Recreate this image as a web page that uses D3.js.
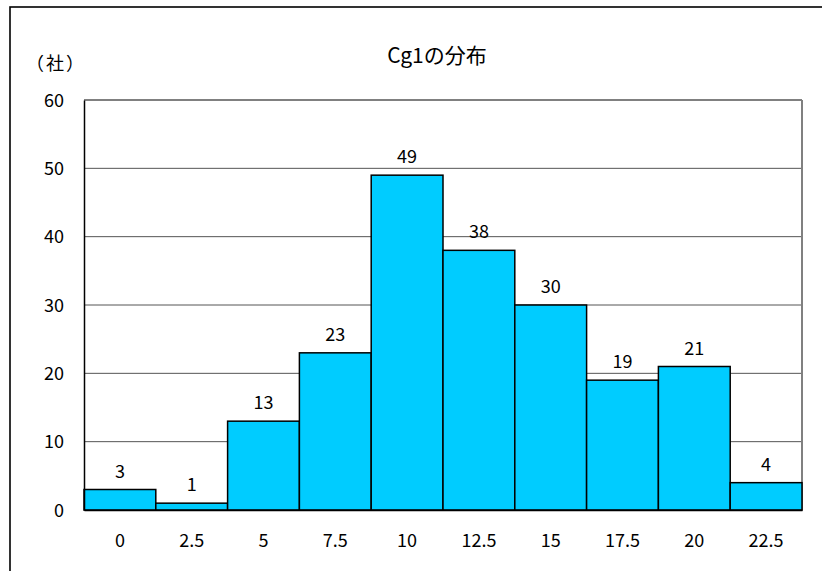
<!DOCTYPE html>
<html>
<head>
<meta charset="utf-8">
<script src="https://cdn.jsdelivr.net/npm/d3@7"></script>
<style>
  body { margin: 0; background: #fff; }
  text { font-family: "Noto Sans CJK JP", "DejaVu Sans", sans-serif; fill: #000; }
</style>
</head>
<body>
<div id="chart"></div>
<script>
// 階級と社数
const categories = ["0", "2.5", "5", "7.5", "10", "12.5", "15", "17.5", "20", "22.5"]
const counts = [3, 1, 13, 23, 49, 38, 30, 19, 21, 4]
const yTicks = [0, 10, 20, 30, 40, 50, 60]

const dimensions = {
    width: 822,
    height: 571,
    margin: { top: 100, right: 20, bottom: 61, left: 84 }
}
dimensions.boundedWidth = dimensions.width - dimensions.margin.left - dimensions.margin.right
dimensions.boundedHeight = dimensions.height - dimensions.margin.top - dimensions.margin.bottom

const wrapper = d3.select("#chart")
    .append("svg")
        .attr("width", dimensions.width)
        .attr("height", dimensions.height)

// 外枠
wrapper.append("rect")
    .attr("x", 10).attr("y", 7)
    .attr("width", 830).attr("height", 600)
    .attr("fill", "none")
    .attr("stroke", "#000")
    .attr("stroke-width", 1.6)

const bounds = wrapper.append("g")
    .attr("transform", `translate(${dimensions.margin.left},${dimensions.margin.top})`)

const xScale = d3.scaleBand()
    .domain(categories)
    .range([0, dimensions.boundedWidth])
    .padding(0)

const yScale = d3.scaleLinear()
    .domain([0, 60])
    .range([dimensions.boundedHeight, 0])

// 目盛線
bounds.append("g")
    .selectAll("line")
    .data(yTicks.filter(d => d > 0))
    .join("line")
        .attr("x1", 0)
        .attr("x2", dimensions.boundedWidth)
        .attr("y1", d => yScale(d))
        .attr("y2", d => yScale(d))
        .attr("stroke", d => d == 60 ? "#808080" : "#555")
        .attr("stroke-width", d => d == 60 ? 2 : 1)

// 右枠
bounds.append("line")
    .attr("x1", dimensions.boundedWidth).attr("x2", dimensions.boundedWidth)
    .attr("y1", 0).attr("y2", dimensions.boundedHeight)
    .attr("stroke", "#808080")
    .attr("stroke-width", 2)

// 棒
bounds.append("g")
    .selectAll("rect")
    .data(counts)
    .join("rect")
        .attr("x", (d, i) => xScale(categories[i]))
        .attr("y", d => yScale(d))
        .attr("width", xScale.bandwidth())
        .attr("height", d => dimensions.boundedHeight - yScale(d))
        .attr("fill", "#00CCFF")
        .attr("stroke", "#000")
        .attr("stroke-width", 1.5)

// 値ラベル
bounds.append("g")
    .selectAll("text")
    .data(counts)
    .join("text")
        .attr("x", (d, i) => xScale(categories[i]) + xScale.bandwidth() / 2)
        .attr("y", d => yScale(d) - 12)
        .attr("text-anchor", "middle")
        .style("font-size", "18px")
        .text(d => d)

// 軸
const yAxis = bounds.append("g")
    .call(d3.axisLeft(yScale).tickValues(yTicks).tickSize(0).tickPadding(20))
yAxis.select(".domain").attr("stroke", "#000").attr("stroke-width", 1.5)
yAxis.selectAll("text").style("font-size", "18px").attr("dy", "0.35em")

const xAxis = bounds.append("g")
    .attr("transform", `translate(0,${dimensions.boundedHeight})`)
    .call(d3.axisBottom(xScale).tickSize(0).tickPadding(24))
xAxis.select(".domain").attr("stroke", "#000").attr("stroke-width", 1.5)
xAxis.selectAll("text").style("font-size", "18px")

// タイトル
wrapper.append("text")
    .attr("x", 437)
    .attr("y", 63)
    .attr("text-anchor", "middle")
    .style("font-size", "21px")
    .text("Cg1の分布")

wrapper.append("text")
    .attr("x", 56)
    .attr("y", 70)
    .attr("text-anchor", "middle")
    .style("font-size", "18px")
    .style("letter-spacing", "2px")
    .text("（社）")
</script>
</body>
</html>
